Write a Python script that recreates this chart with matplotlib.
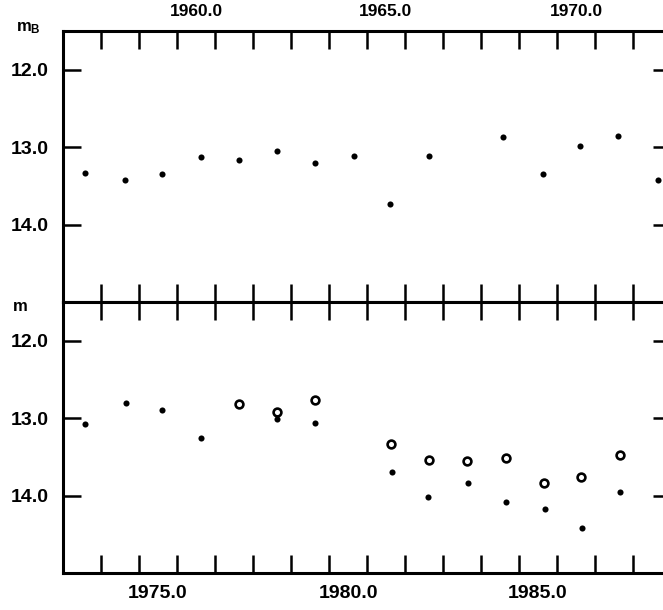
import numpy as np
import matplotlib
matplotlib.use("Agg")
import matplotlib.pyplot as plt
from matplotlib.ticker import FixedLocator, NullFormatter

# ---- photographic B magnitudes, 1957-1972 (upper panel) ----
years_b = [1957.09, 1958.14, 1959.11, 1960.12, 1961.12, 1962.13, 1963.14,
           1964.17, 1965.11, 1966.12, 1968.08, 1969.13, 1970.11, 1971.11,
           1972.15]
mag_b = [13.33, 13.42, 13.35, 13.13, 13.16, 13.05, 13.20,
         13.11, 13.73, 13.11, 12.87, 13.35, 12.99, 12.86,
         13.43]

# ---- magnitudes 1973-1987 (lower panel) ----
years_filled = [1973.09, 1974.15, 1975.10, 1976.12, 1978.13, 1979.12,
                1981.16, 1982.10, 1983.16, 1984.15, 1985.18, 1986.16, 1987.16]
mag_filled = [13.08, 12.81, 12.89, 13.25, 13.01, 13.06,
              13.69, 14.02, 13.84, 14.08, 14.17, 14.42, 13.96]

years_open = [1977.13, 1978.13, 1979.14, 1981.14, 1982.14, 1983.12,
              1984.16, 1985.16, 1986.12, 1987.15]
mag_open = [12.82, 12.92, 12.76, 13.34, 13.54, 13.55,
            13.52, 13.84, 13.76, 13.47]

mag_ticks = [12.0, 13.0, 14.0]
mag_ticklabels = ["12.0", "13.0", "14.0"]
top_year_labels = [1960, 1965, 1970]
bottom_year_labels = [1975, 1980, 1985]

FONT = ["Liberation Sans", "DejaVu Sans"]
plt.rcParams["font.family"] = FONT
plt.rcParams["font.weight"] = "bold"

W, H = 663, 610
fig = plt.figure(figsize=(W / 100, H / 100), dpi=100)

def px_axes(left, top, right, bottom):
    return fig.add_axes([left / W, 1 - bottom / H, (right - left) / W, (bottom - top) / H])

ax_top = px_axes(63, 31, 671, 302)
ax_bot = px_axes(63, 302, 671, 573)

SPINE_LW = 2.2
TICK_LEN = 13
TICK_W = 1.8

def style(ax, x0, x1, year_labels, label_side, xlabel_size):
    ax.set_xlim(x0, x1)
    ax.set_ylim(15.0, 11.5)
    for s in ax.spines.values():
        s.set_linewidth(SPINE_LW)
    # yearly tick marks at the half-year points
    ax.xaxis.set_minor_locator(FixedLocator(np.arange(x0 + 1, x1, 1.0)))
    ax.xaxis.set_minor_formatter(NullFormatter())
    ax.xaxis.set_major_locator(FixedLocator(year_labels))
    ax.set_xticklabels([f"{y:.1f}" for y in year_labels])
    ax.tick_params(axis="x", which="minor", direction="in", length=TICK_LEN,
                   width=TICK_W, top=True, bottom=True)
    ax.tick_params(axis="x", which="major", length=0, pad=8.3,
                   labelsize=xlabel_size,
                   top=True, bottom=True,
                   labeltop=(label_side == "top"),
                   labelbottom=(label_side == "bottom"))
    ax.set_yticks(mag_ticks)
    ax.set_yticklabels(mag_ticklabels)
    ax.tick_params(axis="y", which="major", direction="in", length=TICK_LEN,
                   width=TICK_W, left=True, right=True, pad=10.5, labelsize=14)
    for lab in ax.get_xticklabels() + ax.get_yticklabels():
        lab.set_fontweight("bold")

style(ax_top, 1956.5, 1972.5, top_year_labels, "top", 12.5)
style(ax_bot, 1972.5, 1988.5, bottom_year_labels, "bottom", 14)

ax_top.plot(years_b, mag_b, "o", color="black", ms=4.4, mew=0, clip_on=False)

ax_bot.plot(years_filled, mag_filled, "o", color="black", ms=4.4, mew=0)
ax_bot.plot(years_open, mag_open, "o", mfc="white", mec="black", ms=5.6, mew=1.9)

fig.text(16 / W, 1 - 31 / H, r"$\mathregular{m_B}$", fontsize=12, fontweight="bold",
         va="baseline", ha="left")
fig.text(13 / W, 1 - 311 / H, "m", fontsize=12, fontweight="bold",
         va="baseline", ha="left")

fig.savefig("out.png", dpi=100)
